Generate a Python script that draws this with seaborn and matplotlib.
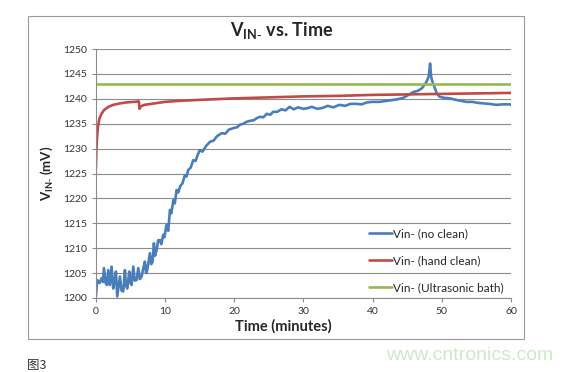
import numpy as np
import pandas as pd
import seaborn as sns
import matplotlib.pyplot as plt
from matplotlib.patches import Rectangle

# blue trace: Vin- (no clean)
t_noclean = [0, 0.19, 0.5, 0.82, 1.0, 1.16, 1.40, 1.6, 1.78, 2.02, 2.26, 2.5, 2.7, 2.89,
             3.08, 3.3, 3.47, 3.7, 3.95, 4.19, 4.35, 4.53, 4.82, 5.0, 5.15, 5.4, 5.6, 5.88,
             6.12, 6.35, 6.6, 6.85, 7.08, 7.25, 7.42, 7.8, 8.0, 8.19, 8.38, 8.55, 8.77, 9.0,
             9.25, 9.45, 9.73, 9.9, 10.2, 10.45, 10.7, 10.9, 11.2, 11.4, 11.66, 11.9, 12.2,
             12.5, 12.86, 13.1, 13.34, 13.7, 14.07, 14.4, 14.7, 15.0, 15.4, 15.9, 16.5, 17.0,
             17.5, 18.16, 18.7, 19.2, 19.8, 20.4, 20.8, 21.3, 21.8, 22.3, 22.8, 23.2, 23.7,
             24.2, 24.7, 25.2, 25.6, 26.2, 26.8, 27.4, 28.0, 28.6, 29.2, 30.0, 30.5, 31.2,
             32.0, 32.8, 33.5, 34.3, 35.2, 36.0, 36.8, 37.6, 38.4, 39.2, 40.0, 41.0, 42.5,
             43.5, 44.4, 45.2, 45.9, 46.5, 47.1, 47.6, 47.9, 48.1, 48.3, 48.45, 48.6, 49.0,
             49.3, 49.7, 50.4, 51.2, 52.0, 52.8, 53.6, 54.4, 55.2, 56.0, 56.8, 57.9, 58.8,
             59.8, 60]
v_noclean = [1200.3, 1203.6, 1203.0, 1204.0, 1203.2, 1206.0, 1203.0, 1202.6, 1205.6, 1202.6,
             1206.3, 1201.9, 1203.5, 1205.3, 1200.3, 1202.5, 1204.3, 1201.5, 1201.3, 1205.6,
             1202.5, 1201.9, 1205.3, 1203.0, 1202.6, 1206.3, 1203.5, 1203.6, 1206.0, 1203.8,
             1204.3, 1206.0, 1207.3, 1205.0, 1205.6, 1209.0, 1206.8, 1207.3, 1211.0, 1208.5,
             1209.6, 1211.6, 1211.6, 1210.8, 1212.7, 1212.2, 1214.7, 1213.5, 1217.7, 1217.0,
             1219.7, 1219.0, 1221.7, 1221.2, 1222.5, 1223.0, 1224.7, 1224.4, 1225.7, 1226.2,
             1227.7, 1227.5, 1228.7, 1229.7, 1229.4, 1230.5, 1231.4, 1231.6, 1232.5, 1233.1,
             1233.0, 1233.8, 1234.1, 1234.3, 1234.8, 1235.0, 1235.4, 1235.6, 1235.7, 1236.1,
             1236.4, 1236.3, 1237.0, 1236.8, 1237.4, 1237.4, 1237.9, 1237.7, 1238.4, 1237.9,
             1238.3, 1238.0, 1238.1, 1238.4, 1238.0, 1238.2, 1238.6, 1238.3, 1238.8, 1238.6,
             1239.0, 1239.0, 1238.9, 1239.3, 1239.4, 1239.4, 1239.7, 1239.9, 1240.2, 1240.8,
             1241.4, 1241.6, 1242.1, 1243.0, 1243.8, 1244.5, 1247.1, 1244.5, 1243.6, 1242.1,
             1241.0, 1240.4, 1240.2, 1240.1, 1239.8, 1239.6, 1239.4, 1239.4, 1239.2, 1239.1,
             1239.0, 1238.8, 1238.9, 1238.9, 1238.8]

# red trace: Vin- (hand clean)
t_hand = [0, 0.05, 0.15, 0.3, 0.5, 0.8, 1.2, 1.8, 2.5, 3.5, 4.5, 5.5, 6.2, 6.3, 6.5, 7, 8,
          10, 12, 15, 20, 25, 30, 35, 40, 45, 50, 55, 60]
v_hand = [1226.0, 1229.0, 1232.0, 1234.5, 1236.0, 1237.0, 1237.8, 1238.4, 1238.8, 1239.1,
          1239.3, 1239.4, 1239.5, 1238.0, 1238.5, 1238.8, 1239.0, 1239.4, 1239.6, 1239.8,
          1240.1, 1240.3, 1240.5, 1240.6, 1240.8, 1240.9, 1241.0, 1241.1, 1241.2]

# green trace: Vin- (Ultrasonic bath)
t_ultra = [0, 60]
v_ultra = [1243.0, 1243.0]

labels = ["Vin- (no clean)", "Vin- (hand clean)", "Vin- (Ultrasonic bath)"]
colors = ["#4A7EBB", "#BE4B48", "#98B954"]

df_blue = pd.DataFrame({"t": t_noclean, "v": v_noclean})
df_red = pd.DataFrame({"t": t_hand, "v": v_hand})
df_green = pd.DataFrame({"t": t_ultra, "v": v_ultra})

sns.set_style("white")
plt.rcParams['font.family'] = ['Lato', 'DejaVu Sans']

fig = plt.figure(figsize=(5.71, 3.72), dpi=100)
ax = fig.add_axes([0.168, 0.199, 0.727, 0.669])

for d, lab, c in zip([df_blue, df_red, df_green], labels, colors):
    sns.lineplot(data=d, x="t", y="v", ax=ax, color=c, linewidth=1.9, label=lab,
                 estimator=None, sort=False)

ax.set_xlim(0, 60)
ax.set_ylim(1200, 1250)
ax.set_xticks(range(0, 61, 10))
ax.set_yticks(range(1200, 1251, 5))
ax.yaxis.grid(True, color="#8c8c8c", linewidth=0.8)
ax.xaxis.grid(False)
for s in ["top", "right"]:
    ax.spines[s].set_visible(False)
for s in ["left", "bottom"]:
    ax.spines[s].set_color("#8c8c8c")
    ax.spines[s].set_linewidth(0.8)
ax.tick_params(axis="both", labelsize=7.5, colors="#333333", length=3, width=0.8,
               direction="out", bottom=True, left=True)
ax.tick_params(axis="both", color="#8c8c8c")

ax.set_xlabel("Time (minutes)", fontsize=10.5, fontweight="bold", labelpad=2)
ax.xaxis.set_label_coords(0.452, -0.085)
ax.set_ylabel(r"V$_{\mathregular{IN}\text{-}}$ (mV)", fontsize=9.5, fontweight="bold", labelpad=6)
fig.text(0.494, 0.918, r"V$_{\mathregular{IN}\text{-}}$ vs. Time", fontsize=13, fontweight="bold",
         ha="center", va="center")

leg = ax.legend(loc="lower right", bbox_to_anchor=(1.0, -0.01), frameon=False,
                fontsize=8.5, handlelength=1.9, handletextpad=0.15, labelspacing=1.35,
                borderaxespad=0.2)

# chart outer border
fig.patches.append(Rectangle((28 / 571, 1 - 339 / 372), (524 - 28) / 571, (339 - 16) / 372,
                             transform=fig.transFigure, fill=False, edgecolor="#9a9a9a",
                             linewidth=0.8))

fig.text(27 / 571, 1 - 365 / 372, "图3", fontsize=9, color="#333333", va="center",
         family=['Noto Sans CJK SC', 'DejaVu Sans'])
fig.text(470 / 571, 1 - 356 / 372, "www.cntronics.com", fontsize=14, color="#cfe8c8",
         ha="center", va="center", family="Liberation Sans")

fig.savefig("out.png", dpi=100)
